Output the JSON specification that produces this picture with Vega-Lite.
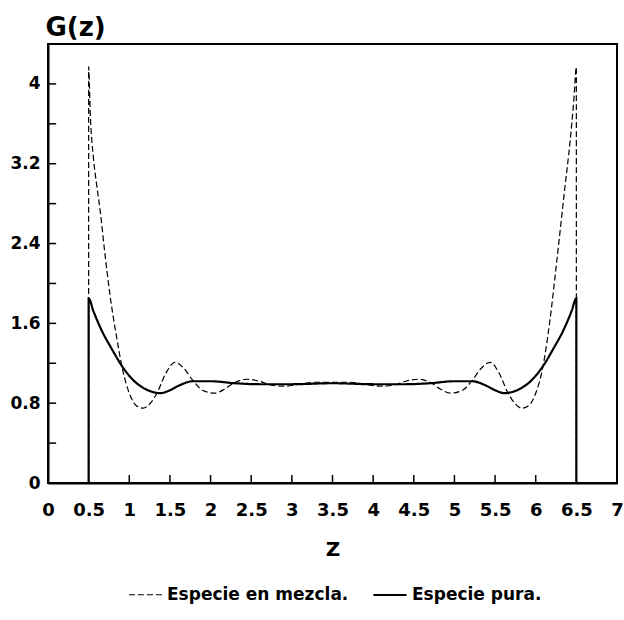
{
  "$schema": "https://vega.github.io/schema/vega-lite/v6.json",
  "autosize": {"type": "none"},
  "width": 569,
  "height": 439,
  "padding": {"left": 48, "top": 44, "right": 7, "bottom": 137},
  "background": "white",
  "config": {
    "view": {"stroke": "black", "strokeWidth": 2},
    "axis": {
      "grid": false,
      "ticks": false,
      "labelOverlap": false,
      "domainColor": "black",
      "domainWidth": 2,
      "labelColor": "black",
      "titleColor": "black",
      "labelFont": "DejaVu Sans",
      "labelFontWeight": "bold",
      "labelFontSize": 17
    }
  },
  "layer": [
    {
      "data": {
        "values": [
          {"serie": "Especie en mezcla.", "i": 0, "x": 0.5, "g": 0},
          {"serie": "Especie en mezcla.", "i": 1, "x": 0.5, "g": 4.17},
          {"serie": "Especie en mezcla.", "i": 2, "x": 0.52, "g": 3.7},
          {"serie": "Especie en mezcla.", "i": 3, "x": 0.56, "g": 3.25},
          {"serie": "Especie en mezcla.", "i": 4, "x": 0.6, "g": 2.98},
          {"serie": "Especie en mezcla.", "i": 5, "x": 0.64, "g": 2.74},
          {"serie": "Especie en mezcla.", "i": 6, "x": 0.7, "g": 2.3},
          {"serie": "Especie en mezcla.", "i": 7, "x": 0.76, "g": 1.9},
          {"serie": "Especie en mezcla.", "i": 8, "x": 0.84, "g": 1.48},
          {"serie": "Especie en mezcla.", "i": 9, "x": 0.92, "g": 1.13},
          {"serie": "Especie en mezcla.", "i": 10, "x": 1.0, "g": 0.9},
          {"serie": "Especie en mezcla.", "i": 11, "x": 1.08, "g": 0.78},
          {"serie": "Especie en mezcla.", "i": 12, "x": 1.17, "g": 0.75},
          {"serie": "Especie en mezcla.", "i": 13, "x": 1.26, "g": 0.8},
          {"serie": "Especie en mezcla.", "i": 14, "x": 1.34, "g": 0.9},
          {"serie": "Especie en mezcla.", "i": 15, "x": 1.45, "g": 1.1},
          {"serie": "Especie en mezcla.", "i": 16, "x": 1.56, "g": 1.21},
          {"serie": "Especie en mezcla.", "i": 17, "x": 1.67, "g": 1.15},
          {"serie": "Especie en mezcla.", "i": 18, "x": 1.78, "g": 1.03},
          {"serie": "Especie en mezcla.", "i": 19, "x": 1.9, "g": 0.93},
          {"serie": "Especie en mezcla.", "i": 20, "x": 2.05, "g": 0.9},
          {"serie": "Especie en mezcla.", "i": 21, "x": 2.17, "g": 0.94},
          {"serie": "Especie en mezcla.", "i": 22, "x": 2.28, "g": 1.0},
          {"serie": "Especie en mezcla.", "i": 23, "x": 2.45, "g": 1.04},
          {"serie": "Especie en mezcla.", "i": 24, "x": 2.6, "g": 1.02},
          {"serie": "Especie en mezcla.", "i": 25, "x": 2.75, "g": 0.98},
          {"serie": "Especie en mezcla.", "i": 26, "x": 2.9, "g": 0.97},
          {"serie": "Especie en mezcla.", "i": 27, "x": 3.1, "g": 0.99},
          {"serie": "Especie en mezcla.", "i": 28, "x": 3.3, "g": 1.01},
          {"serie": "Especie en mezcla.", "i": 29, "x": 3.5, "g": 1.01},
          {"serie": "Especie en mezcla.", "i": 30, "x": 3.7, "g": 1.01},
          {"serie": "Especie en mezcla.", "i": 31, "x": 3.9, "g": 0.99},
          {"serie": "Especie en mezcla.", "i": 32, "x": 4.1, "g": 0.97},
          {"serie": "Especie en mezcla.", "i": 33, "x": 4.25, "g": 0.98},
          {"serie": "Especie en mezcla.", "i": 34, "x": 4.4, "g": 1.02},
          {"serie": "Especie en mezcla.", "i": 35, "x": 4.55, "g": 1.04},
          {"serie": "Especie en mezcla.", "i": 36, "x": 4.72, "g": 1.0},
          {"serie": "Especie en mezcla.", "i": 37, "x": 4.83, "g": 0.94},
          {"serie": "Especie en mezcla.", "i": 38, "x": 4.95, "g": 0.9},
          {"serie": "Especie en mezcla.", "i": 39, "x": 5.1, "g": 0.93},
          {"serie": "Especie en mezcla.", "i": 40, "x": 5.22, "g": 1.03},
          {"serie": "Especie en mezcla.", "i": 41, "x": 5.33, "g": 1.15},
          {"serie": "Especie en mezcla.", "i": 42, "x": 5.44, "g": 1.21},
          {"serie": "Especie en mezcla.", "i": 43, "x": 5.55, "g": 1.1},
          {"serie": "Especie en mezcla.", "i": 44, "x": 5.66, "g": 0.9},
          {"serie": "Especie en mezcla.", "i": 45, "x": 5.74, "g": 0.8},
          {"serie": "Especie en mezcla.", "i": 46, "x": 5.83, "g": 0.75},
          {"serie": "Especie en mezcla.", "i": 47, "x": 5.92, "g": 0.78},
          {"serie": "Especie en mezcla.", "i": 48, "x": 6.0, "g": 0.9},
          {"serie": "Especie en mezcla.", "i": 49, "x": 6.08, "g": 1.13},
          {"serie": "Especie en mezcla.", "i": 50, "x": 6.17, "g": 1.6},
          {"serie": "Especie en mezcla.", "i": 51, "x": 6.26, "g": 2.23},
          {"serie": "Especie en mezcla.", "i": 52, "x": 6.36, "g": 2.97},
          {"serie": "Especie en mezcla.", "i": 53, "x": 6.42, "g": 3.4},
          {"serie": "Especie en mezcla.", "i": 54, "x": 6.47, "g": 3.85},
          {"serie": "Especie en mezcla.", "i": 55, "x": 6.5, "g": 4.17},
          {"serie": "Especie en mezcla.", "i": 56, "x": 6.5, "g": 0},
          {"serie": "Especie pura.", "i": 0, "x": 0.5, "g": 0},
          {"serie": "Especie pura.", "i": 1, "x": 0.5, "g": 1.85},
          {"serie": "Especie pura.", "i": 2, "x": 0.56, "g": 1.72},
          {"serie": "Especie pura.", "i": 3, "x": 0.66, "g": 1.53},
          {"serie": "Especie pura.", "i": 4, "x": 0.78, "g": 1.35},
          {"serie": "Especie pura.", "i": 5, "x": 0.92, "g": 1.16},
          {"serie": "Especie pura.", "i": 6, "x": 1.05, "g": 1.03},
          {"serie": "Especie pura.", "i": 7, "x": 1.18, "g": 0.95},
          {"serie": "Especie pura.", "i": 8, "x": 1.3, "g": 0.91},
          {"serie": "Especie pura.", "i": 9, "x": 1.38, "g": 0.9},
          {"serie": "Especie pura.", "i": 10, "x": 1.5, "g": 0.93},
          {"serie": "Especie pura.", "i": 11, "x": 1.62, "g": 0.98},
          {"serie": "Especie pura.", "i": 12, "x": 1.78, "g": 1.02},
          {"serie": "Especie pura.", "i": 13, "x": 2.0, "g": 1.02},
          {"serie": "Especie pura.", "i": 14, "x": 2.3, "g": 1.0},
          {"serie": "Especie pura.", "i": 15, "x": 2.6, "g": 0.99},
          {"serie": "Especie pura.", "i": 16, "x": 3.0, "g": 0.99},
          {"serie": "Especie pura.", "i": 17, "x": 3.5, "g": 1.0},
          {"serie": "Especie pura.", "i": 18, "x": 4.0, "g": 0.99},
          {"serie": "Especie pura.", "i": 19, "x": 4.4, "g": 0.99},
          {"serie": "Especie pura.", "i": 20, "x": 4.7, "g": 1.0},
          {"serie": "Especie pura.", "i": 21, "x": 5.0, "g": 1.02},
          {"serie": "Especie pura.", "i": 22, "x": 5.22, "g": 1.02},
          {"serie": "Especie pura.", "i": 23, "x": 5.38, "g": 0.98},
          {"serie": "Especie pura.", "i": 24, "x": 5.5, "g": 0.93},
          {"serie": "Especie pura.", "i": 25, "x": 5.62, "g": 0.9},
          {"serie": "Especie pura.", "i": 26, "x": 5.7, "g": 0.91},
          {"serie": "Especie pura.", "i": 27, "x": 5.82, "g": 0.95},
          {"serie": "Especie pura.", "i": 28, "x": 5.95, "g": 1.03},
          {"serie": "Especie pura.", "i": 29, "x": 6.08, "g": 1.16},
          {"serie": "Especie pura.", "i": 30, "x": 6.22, "g": 1.35},
          {"serie": "Especie pura.", "i": 31, "x": 6.34, "g": 1.53},
          {"serie": "Especie pura.", "i": 32, "x": 6.44, "g": 1.72},
          {"serie": "Especie pura.", "i": 33, "x": 6.5, "g": 1.85},
          {"serie": "Especie pura.", "i": 34, "x": 6.5, "g": 0}
        ]
      },
      "mark": {"type": "line", "interpolate": "monotone", "clip": true},
      "encoding": {
        "x": {
          "field": "x",
          "type": "quantitative",
          "title": "Z",
          "scale": {"domain": [0, 7], "nice": false, "zero": false},
          "axis": {
            "values": [0, 0.5, 1, 1.5, 2, 2.5, 3, 3.5, 4, 4.5, 5, 5.5, 6, 6.5, 7],
            "format": ".1~f",
            "labelOverlap": false,
            "labelPadding": 18,
            "labelFontSize": 18,
            "labelFlush": false,
            "title": "Z",
            "titleFont": "DejaVu Sans",
            "titleFontWeight": "bold",
            "titleFontSize": 20,
            "titlePadding": 20
          }
        },
        "y": {
          "field": "g",
          "type": "quantitative",
          "title": "G(z)",
          "scale": {"domain": [0, 4.4], "nice": false},
          "axis": {
            "values": [0, 0.4, 0.8, 1.2, 1.6, 2, 2.4, 2.8, 3.2, 3.6, 4, 4.4],
            "format": ".1~f",
            "labelOverlap": false,
            "labelPadding": 8,
            "labelFlush": false,
            "title": "G(z)",
            "titleAngle": 0,
            "titleAlign": "left",
            "titleBaseline": "alphabetic",
            "titleX": -3,
            "titleY": -9,
            "titleFont": "DejaVu Sans",
            "titleFontWeight": "bold",
            "titleFontSize": 26
          }
        },
        "order": {"field": "i", "type": "quantitative"},
        "color": {
          "field": "serie",
          "type": "nominal",
          "scale": {"domain": ["Especie en mezcla.", "Especie pura."], "range": ["black", "black"]},
          "legend": {
            "orient": "none",
            "legendX": 80,
            "legendY": 533,
            "direction": "horizontal",
            "title": null,
            "symbolType": "stroke",
            "symbolSize": 1100,
            "symbolStrokeWidth": 1.3,
            "columnPadding": 20,
            "labelFont": "DejaVu Sans",
            "labelFontWeight": "bold",
            "labelFontSize": 17,
            "labelColor": "black",
            "labelLimit": 300
          }
        },
        "strokeDash": {
          "field": "serie",
          "type": "nominal",
          "scale": {"domain": ["Especie en mezcla.", "Especie pura."], "range": [[6, 3], [1, 0]]},
          "legend": null
        },
        "strokeWidth": {
          "field": "serie",
          "type": "nominal",
          "scale": {"domain": ["Especie en mezcla.", "Especie pura."], "range": [1.2, 2.2]},
          "legend": null
        }
      }
    },
    {
      "data": {"values": [{"t": 1}, {"t": 1.5}, {"t": 2}, {"t": 2.5}, {"t": 3}, {"t": 3.5}, {"t": 4}, {"t": 4.5}, {"t": 5}, {"t": 5.5}, {"t": 6}]},
      "mark": {"type": "rule", "color": "black", "strokeWidth": 1.5},
      "encoding": {
        "x": {"field": "t", "type": "quantitative", "title": "Z"},
        "y": {"datum": 0},
        "y2": {"datum": 0.08}
      }
    },
    {
      "data": {"values": [{"t": 0.4}, {"t": 0.8}, {"t": 1.2}, {"t": 1.6}, {"t": 2}, {"t": 2.4}, {"t": 2.8}, {"t": 3.2}, {"t": 3.6}, {"t": 4}]},
      "mark": {"type": "rule", "color": "black", "strokeWidth": 1.5},
      "encoding": {
        "y": {"field": "t", "type": "quantitative", "title": "G(z)"},
        "x": {"datum": 0},
        "x2": {"datum": 0.1}
      }
    }
  ]
}
